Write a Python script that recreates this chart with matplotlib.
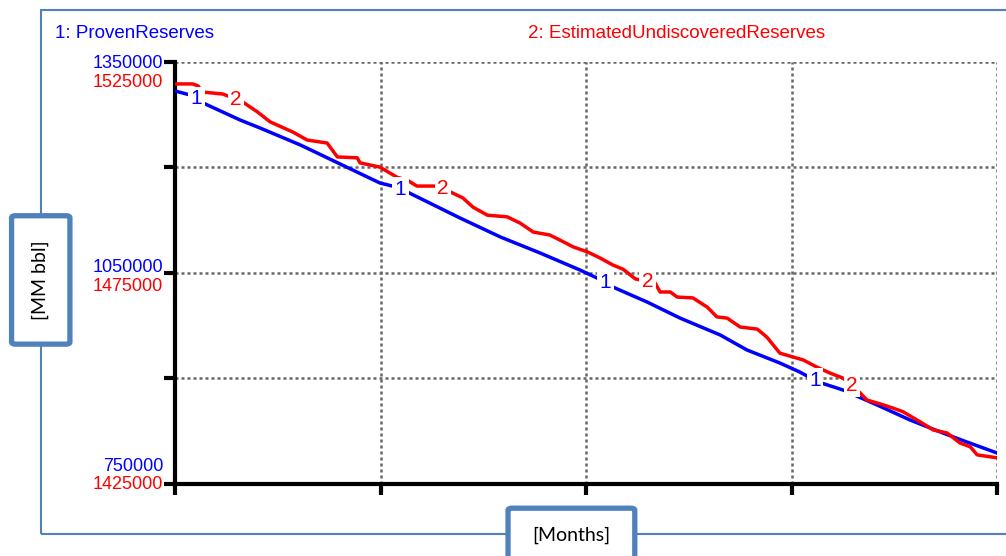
import numpy as np
import matplotlib.pyplot as plt
from matplotlib.patches import Rectangle, FancyBboxPatch
from matplotlib.transforms import offset_copy

plt.rcParams['font.family'] = ['Liberation Sans', 'DejaVu Sans']

# -----------------------------
# data (months, MM bbl)
# -----------------------------
proven_months = [0.0, 2.2, 4.1, 9.5, 12.4, 18.3, 24.1, 29.9, 31.7, 33.9, 41.6, 47.5,
                 53.3, 59.1, 61.6, 63.9, 68.9, 73.7, 79.6, 83.5, 88.3, 91.2, 93.9,
                 97.5, 102.5, 107.3, 112.1, 115.6, 120.0]
proven_reserves = [1308800, 1303100, 1291700, 1267500, 1256200, 1232000, 1205000,
                   1178000, 1173700, 1165200, 1128200, 1101200, 1078400, 1054300,
                   1042900, 1030100, 1008800, 986000, 961800, 940500, 922000, 909200,
                   895000, 883700, 862300, 841000, 822500, 809700, 794100]

undisc_months = [0.0, 2.6, 3.4, 3.9, 7.0, 9.9, 12.0, 13.9, 17.2, 19.3, 22.2, 23.7,
                 26.6, 27.0, 29.9, 32.4, 33.9, 35.3, 38.3, 40.2, 42.0, 43.5, 45.6,
                 48.5, 50.4, 52.3, 54.7, 56.2, 58.1, 60.2, 62.0, 63.9, 65.4, 67.2,
                 70.1, 70.8, 72.3, 73.3, 75.6, 77.7, 79.1, 80.6, 82.5, 85.0, 86.4,
                 88.3, 90.2, 91.7, 93.7, 95.6, 97.5, 99.6, 101.0, 102.9, 104.8,
                 106.3, 108.8, 110.7, 112.7, 114.6, 116.1, 117.1, 120.0]
undisc_reserves = [1519800, 1519800, 1519300, 1517900, 1517400, 1515500, 1513200,
                   1510800, 1508400, 1506500, 1505800, 1502500, 1502300, 1501100,
                   1500100, 1497700, 1497000, 1495600, 1495600, 1494200, 1492800,
                   1490600, 1488700, 1488300, 1486800, 1484700, 1484000, 1482800,
                   1481200, 1480000, 1478600, 1476900, 1475900, 1473600, 1472600,
                   1470500, 1470500, 1469300, 1469100, 1466900, 1464600, 1464300,
                   1462200, 1461700, 1459800, 1456000, 1455100, 1454400, 1452700,
                   1451300, 1450100, 1447300, 1444900, 1444000, 1443000, 1442100,
                   1439700, 1437800, 1437100, 1434700, 1433800, 1431900, 1431200]

proven_ticks = [750000, 1050000, 1350000]
undisc_ticks = [1425000, 1475000, 1525000]
label_months_1 = [3.1, 32.9, 62.8, 93.4]
label_months_2 = [8.9, 39.1, 69.0, 98.8]

BLUE = '#0000ff'
RED = '#ff0000'
FRAME = '#4f81bd'

fig = plt.figure(figsize=(10.06, 5.56), dpi=100)

# outer frame
fig.add_artist(Rectangle((0.0408, 0.0396), 1.0, 0.9424, transform=fig.transFigure,
                         fill=False, edgecolor=FRAME, lw=1.5))

ax = fig.add_axes([0.174, 0.1295, 0.8171, 0.759])
ax2 = ax.twinx()

ax.set_xlim(0, 120)
ax.set_ylim(750000, 1350000)
ax2.set_ylim(1425000, 1525000)

ax.set_xticks([0, 30, 60, 90, 120])
ax.set_yticks([750000, 900000, 1050000, 1200000, 1350000])
ax.set_xticklabels([])
ax.set_yticklabels([])
ax.tick_params(length=8, width=3, color='black', direction='out')
ax.grid(True, color='#666666', linestyle=(0, (1.2, 1.2)), lw=1.8)
for s in ['top', 'right']:
    ax.spines[s].set_visible(False)
for s in ['left', 'bottom']:
    ax.spines[s].set_linewidth(3)
ax2.set_yticks([])
for s in ax2.spines.values():
    s.set_visible(False)

ax.plot(proven_months, proven_reserves, color=BLUE, lw=2.5, zorder=3)
ax2.plot(undisc_months, undisc_reserves, color=RED, lw=2.5, zorder=3)

# series number labels (white box cuts the line like the original)
for m in label_months_1:
    yv = np.interp(m, proven_months, proven_reserves)
    ax2.text(m, yv, '1', transform=ax.transData, color=BLUE, fontsize=15,
             ha='center', va='center', zorder=6,
             bbox=dict(facecolor='white', edgecolor='none', pad=1.8))
for m in label_months_2:
    yv = np.interp(m, undisc_months, undisc_reserves)
    ax2.text(m, yv, '2', color=RED, fontsize=15, ha='center', va='center', zorder=6,
             bbox=dict(facecolor='white', edgecolor='none', pad=1.8))

# stacked tick labels on the left (offsets in pixels)
blue_off = [17, 5, -2]
red_off = [-1, -14, -21]
for v, off in zip(proven_ticks, blue_off):
    tr = offset_copy(ax.get_yaxis_transform(), fig=fig, x=0, y=off * 0.72, units='points')
    ax.text(-0.0146, v, str(v), transform=tr, color=BLUE, fontsize=13,
            ha='right', va='center', clip_on=False)
for v, off in zip(undisc_ticks, red_off):
    tr = offset_copy(ax2.get_yaxis_transform(), fig=fig, x=0, y=off * 0.72, units='points')
    ax2.text(-0.0146, v, str(v), transform=tr, color=RED, fontsize=13,
             ha='right', va='center', clip_on=False)

# legend texts
fig.text(0.0547, 0.940, '1: ProvenReserves', color=BLUE, fontsize=13.5, va='center')
fig.text(0.525, 0.940, '2: EstimatedUndiscoveredReserves', color=RED, fontsize=13.5,
         va='center')

# axis title boxes
fig.add_artist(FancyBboxPatch((0.0115, 0.381), 0.058, 0.231, transform=fig.transFigure,
                              boxstyle='round,pad=0,rounding_size=0.004',
                              facecolor='white', edgecolor=FRAME, lw=3.8, zorder=5))
fig.text(0.0398, 0.496, '[MM bbl]', rotation=90, fontsize=14, family='Lato',
         ha='center', va='center', zorder=6)
fig.add_artist(FancyBboxPatch((0.505, -0.05), 0.126, 0.136, transform=fig.transFigure,
                              boxstyle='round,pad=0,rounding_size=0.004',
                              facecolor='white', edgecolor=FRAME, lw=3.8, zorder=5))
fig.text(0.5676, 0.038, '[Months]', fontsize=14, family='Lato',
         ha='center', va='center', zorder=6)

fig.savefig('out.png', dpi=100)
